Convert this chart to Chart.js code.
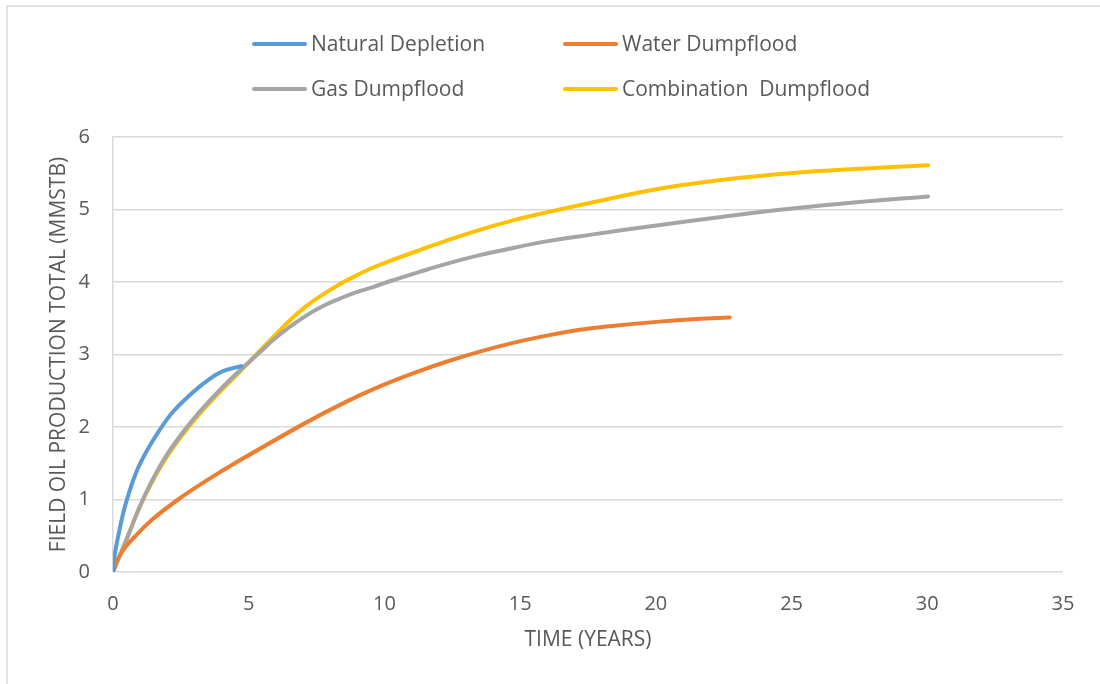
<!DOCTYPE html>
<html>
<head>
<meta charset="utf-8">
<script src="https://cdn.jsdelivr.net/npm/chart.js@4/dist/chart.umd.min.js"></script>
<style>
  html, body { margin: 0; padding: 0; background: #fff; }
  #chart-container { width: 1100px; height: 684px; }
</style>
</head>
<body>
<div id="chart-container"><canvas id="production-chart"></canvas></div>
<script>
// cumulative field oil production (MMSTB) against time (years), one pair of arrays per case
const naturalYears = [0, 0.06, 0.25, 0.49, 0.86, 1.23, 1.72, 2.21, 2.83, 3.44, 4.05, 4.73];
const naturalOil   = [0, 0.23, 0.6, 0.97, 1.38, 1.66, 1.96, 2.21, 2.44, 2.63, 2.77, 2.84];

const waterYears = [0, 0.12, 0.43, 0.86, 1.5, 2.4, 3.4, 4.49, 7.06, 8.6, 9.83, 11.05, 12.28, 13.51, 14.74, 15.97, 17.2, 18.3, 20.02, 21.5, 22.72];
const waterOil   = [0, 0.14, 0.33, 0.51, 0.74, 1.0, 1.25, 1.5, 2.05, 2.35, 2.56, 2.74, 2.9, 3.04, 3.16, 3.26, 3.34, 3.39, 3.45, 3.49, 3.51];

const gasYears = [0, 0.49, 0.98, 1.41, 1.97, 2.58, 3.19, 3.93, 4.67, 5.41, 5.9, 6.51, 7.13, 7.74, 8.35, 8.97, 9.58, 10.2, 11.3, 12.28, 13.51, 14.74, 15.97, 17.56, 20.02, 22.48, 24.93, 27.39, 30.03];
const gasOil   = [0, 0.44, 0.9, 1.24, 1.61, 1.93, 2.21, 2.51, 2.78, 3.03, 3.2, 3.38, 3.54, 3.67, 3.77, 3.86, 3.93, 4.01, 4.14, 4.25, 4.37, 4.47, 4.56, 4.65, 4.78, 4.9, 5.01, 5.1, 5.18];

const comboYears = [0, 0.49, 0.98, 1.41, 1.97, 2.58, 3.19, 3.93, 4.67, 5.28, 5.9, 6.51, 7.13, 7.74, 8.35, 8.97, 9.58, 10.2, 11.3, 12.28, 13.51, 14.74, 15.97, 17.56, 20.02, 22.48, 24.93, 27.39, 30.03];
const comboOil   = [0, 0.44, 0.89, 1.22, 1.58, 1.9, 2.18, 2.48, 2.76, 3.0, 3.24, 3.47, 3.67, 3.83, 3.97, 4.09, 4.2, 4.29, 4.44, 4.57, 4.72, 4.85, 4.96, 5.09, 5.28, 5.41, 5.5, 5.56, 5.61];

const seriesNames = ['Natural Depletion', 'Water Dumpflood', 'Gas Dumpflood', 'Combination  Dumpflood'];
const seriesColors = ['#5B9BD5', '#ED7D31', '#A5A5A5', '#FFC000'];

const xTitle = 'TIME (YEARS)';
const yTitle = 'FIELD OIL PRODUCTION TOTAL (MMSTB)';

const TEXT_COLOR = '#595959';
const GRID_COLOR = '#d9d9d9';
const FONT = 'Open Sans';

function toPoints(xs, ys) {
    return xs.map((x, i) => ({x: x, y: ys[i]}));
}

function makeDataset(index, xs, ys) {
    return {
        label: seriesNames[index],
        data: toPoints(xs, ys),
        borderColor: seriesColors[index],
        backgroundColor: seriesColors[index],
        borderWidth: 4,
        borderCapStyle: 'round',
        borderJoinStyle: 'round',
        pointRadius: 0,
        fill: false,
        tension: 0.4,
    };
}

// two-column legend above the plot plus the thin frame round the whole chart
const frameAndLegend = {
    id: 'frameAndLegend',
    beforeDraw(chart) {
        const ctx = chart.ctx;
        ctx.save();
        ctx.strokeStyle = GRID_COLOR;
        ctx.lineWidth = 1.5;
        ctx.strokeRect(7, 6, 1200, 800);
        ctx.restore();
    },
    afterDraw(chart) {
        const ctx = chart.ctx;
        const columns = [252, 563];
        const rows = [44, 89];
        ctx.save();
        ctx.font = '21px "' + FONT + '"';
        ctx.textBaseline = 'middle';
        ctx.fillStyle = TEXT_COLOR;
        chart.data.datasets.forEach((ds, i) => {
            const x = columns[i % 2];
            const y = rows[Math.floor(i / 2)];
            ctx.strokeStyle = ds.borderColor;
            ctx.lineWidth = 4;
            ctx.lineCap = 'round';
            ctx.beginPath();
            ctx.moveTo(x + 2, y);
            ctx.lineTo(x + 53, y);
            ctx.stroke();
            ctx.fillText(ds.label, x + 59, y + 1);
        });
        ctx.restore();
    }
};

const ctx = document.getElementById('production-chart').getContext('2d');
const chart = new Chart(ctx, {
    type: 'line',
    data: {
        datasets: [
            makeDataset(0, naturalYears, naturalOil),
            makeDataset(1, waterYears, waterOil),
            makeDataset(2, gasYears, gasOil),
            makeDataset(3, comboYears, comboOil),
        ]
    },
    options: {
        responsive: true,
        maintainAspectRatio: false,
        animation: false,
        layout: {
            padding: {left: 0, right: 37, top: 137, bottom: 0}
        },
        plugins: {
            legend: {display: false},
            tooltip: {enabled: false},
        },
        scales: {
            x: {
                type: 'linear',
                min: 0,
                max: 35,
                ticks: {
                    stepSize: 5,
                    padding: 20,
                    color: TEXT_COLOR,
                    font: {family: FONT, size: 20},
                },
                grid: {display: false, drawTicks: false},
                border: {display: false},
                title: {
                    display: true,
                    text: xTitle,
                    color: TEXT_COLOR,
                    font: {family: FONT, size: 21},
                    padding: {top: 0, bottom: 31},
                },
                afterFit: (scale) => { scale.height = 112; },
            },
            y: {
                min: 0,
                max: 6,
                ticks: {
                    stepSize: 1,
                    padding: 23,
                    color: TEXT_COLOR,
                    font: {family: FONT, size: 20},
                },
                grid: {color: GRID_COLOR, lineWidth: 1.5, drawTicks: false},
                border: {display: true, color: GRID_COLOR, width: 1.5},
                title: {
                    display: true,
                    text: yTitle,
                    color: TEXT_COLOR,
                    font: {family: FONT, size: 21},
                    padding: {top: 46, bottom: 0},
                },
                afterFit: (scale) => { scale.width = 113; },
            }
        }
    },
    plugins: [frameAndLegend]
});
</script>
</body>
</html>
